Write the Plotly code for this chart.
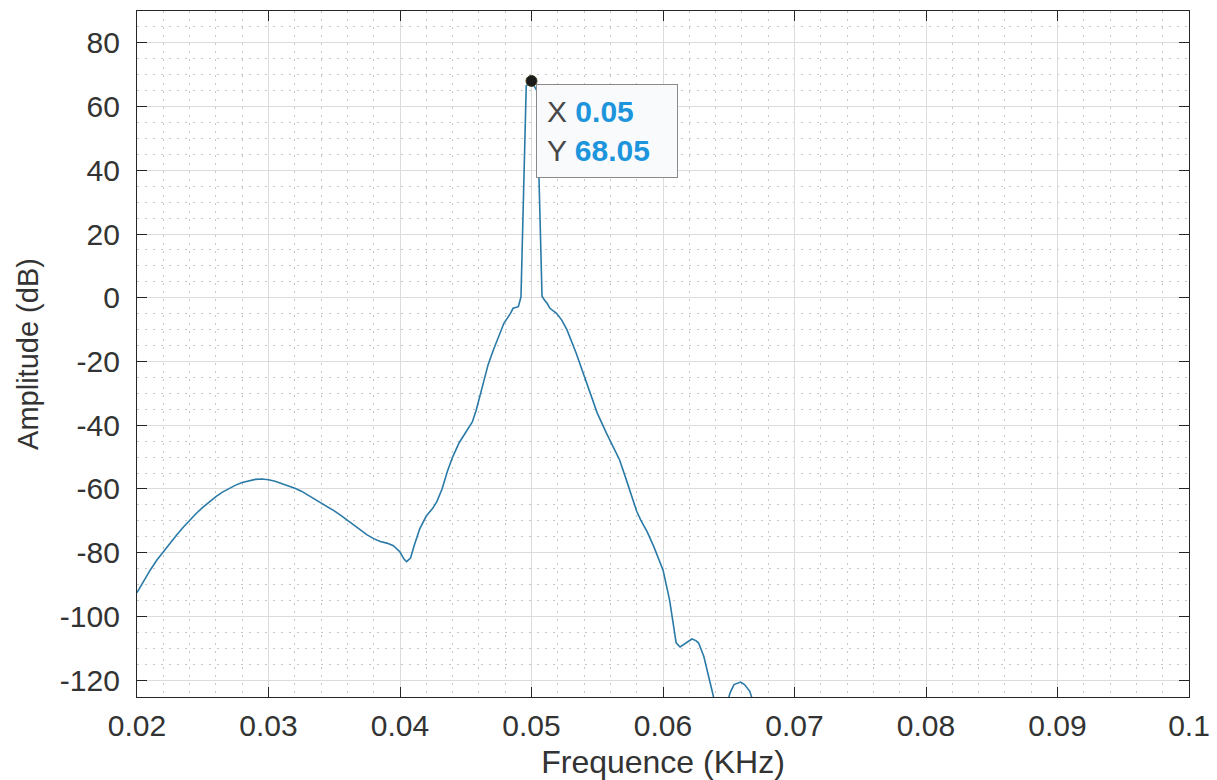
import plotly.graph_objects as go

# Spectrum magnitude (dB) versus frequency (kHz)
freq = [0.0200, 0.0205, 0.0210, 0.0215, 0.0220, 0.0225, 0.0230, 0.0235, 0.0240, 0.0245,
        0.0250, 0.0255, 0.0260, 0.0265, 0.0270, 0.0275, 0.0280, 0.0285, 0.0290, 0.0295,
        0.0300, 0.0305, 0.0310, 0.0315, 0.0320, 0.0325, 0.0330, 0.0335, 0.0340, 0.0345,
        0.0350, 0.0355, 0.0360, 0.0365, 0.0370, 0.0375, 0.0380, 0.0385, 0.0390, 0.0395,
        0.0400, 0.0403, 0.0405, 0.0408, 0.0411, 0.0415, 0.0420, 0.0425, 0.0428, 0.0432,
        0.0436, 0.0440, 0.0445, 0.0450, 0.0455, 0.0458, 0.0463, 0.0467, 0.0471, 0.0475,
        0.0479, 0.0484, 0.0486, 0.0490, 0.0491, 0.0492, 0.0496, 0.0500, 0.0504, 0.0508,
        0.0510, 0.0512, 0.0514, 0.0519, 0.0523, 0.0527, 0.0534, 0.0542, 0.0550, 0.0557,
        0.0562, 0.0567, 0.0572, 0.0576, 0.0580, 0.0583, 0.0588, 0.0593, 0.0600, 0.0605,
        0.0610, 0.0613, 0.0617, 0.0622, 0.0625, 0.0627, 0.0631, 0.0635, 0.0638, 0.0641,
        0.0645, 0.0649, 0.0651, 0.0654, 0.0659, 0.0662, 0.0666, 0.0669, 0.0673]
amp = [-92.5, -88.8, -85.5, -82.4, -79.7, -77.0, -74.5, -72.1, -69.8, -67.7,
       -65.8, -64.0, -62.4, -61.0, -59.8, -58.8, -58.0, -57.4, -57.0, -56.9,
       -57.1, -57.6, -58.3, -59.1, -59.8, -60.7, -61.9, -63.1, -64.3, -65.5,
       -66.9, -68.3, -69.8, -71.4, -73.0, -74.4, -75.6, -76.5, -77.0, -77.8,
       -79.8, -82.0, -82.8, -81.7, -77.5, -72.5, -68.5, -66.0, -64.0, -60.0,
       -54.5, -50.0, -45.5, -42.2, -39.0, -35.2, -27.0, -21.0, -16.4, -12.0,
       -8.0, -4.9, -3.3, -2.8, -0.7, 0.3, 66.5, 68.05, 65.0, 0.5,
       -0.8, -1.8, -3.3, -4.9, -7.0, -10.1, -17.4, -26.8, -36.2, -42.5,
       -46.5, -50.9, -57.0, -62.0, -67.0, -69.7, -73.5, -78.1, -85.4, -94.8,
       -108.3, -109.6, -108.5, -107.1, -107.6, -108.3, -112.5, -119.0, -124.5, -131.0,
       -134.0, -127.0, -124.0, -121.4, -120.6, -121.4, -123.5, -127.5, -135.0]

# Data-tip location
tip_x = 0.05
tip_y = 68.05

x_ticks = [0.02, 0.03, 0.04, 0.05, 0.06, 0.07, 0.08, 0.09, 0.1]
x_tick_text = ["0.02", "0.03", "0.04", "0.05", "0.06", "0.07", "0.08", "0.09", "0.1"]
y_ticks = [-120, -100, -80, -60, -40, -20, 0, 20, 40, 60, 80]
y_tick_text = ["-120", "-100", "-80", "-60", "-40", "-20", "0", "20", "40", "60", "80"]

FONT = "Liberation Sans, Arial, sans-serif"
INK = "#333333"
LINE = "#2a7aa8"
TIP_BLUE = "#1d95dc"

fig = go.Figure()
fig.add_trace(go.Scatter(x=freq, y=amp, mode="lines",
                         line=dict(color=LINE, width=1.6), hoverinfo="skip",
                         showlegend=False))
fig.add_trace(go.Scatter(x=[tip_x], y=[tip_y], mode="markers",
                         marker=dict(size=11, color="#1a1a1a",
                                     line=dict(color="#3a3a20", width=1)),
                         cliponaxis=False, hoverinfo="skip", showlegend=False))

tip_text = (f'X <span style="color:{TIP_BLUE}"><b>{tip_x:.2f}</b></span><br>'
            f'Y <span style="color:{TIP_BLUE}"><b>{tip_y:.2f}</b></span>')
fig.add_annotation(x=tip_x, y=tip_y, xref="x", yref="y", text=tip_text,
                   showarrow=False, xanchor="left", yanchor="top",
                   xshift=4, yshift=-3, align="left", width=120,
                   font=dict(family=FONT, size=30, color="#484848"),
                   bgcolor="#f9fafc", bordercolor="#8a8a8a", borderwidth=1,
                   borderpad=10)

minor_grid = dict(showgrid=True, gridcolor="#c6c6c6", griddash="1.5px,6.5px",
                  gridwidth=1, ticks="")

axis_common = dict(
    showline=True, linecolor="#262626", linewidth=1.3, mirror="ticks",
    ticks="inside", ticklen=10, tickwidth=1.3, tickcolor="#262626",
    showgrid=True, gridcolor="#dcdcdc", gridwidth=1,
    zeroline=False,
    tickfont=dict(family=FONT, size=30, color=INK),
)

fig.update_xaxes(range=[0.02, 0.1], tickvals=x_ticks, ticktext=x_tick_text,
                 minor=dict(dtick=0.002, **minor_grid),
                 ticklabelstandoff=2,
                 title=dict(text="Frequence (KHz)",
                            font=dict(family=FONT, size=32, color=INK),
                            standoff=10),
                 **axis_common)
fig.update_yaxes(range=[-125.3, 90], tickvals=y_ticks, ticktext=y_tick_text,
                 minor=dict(dtick=5, tick0=0, **minor_grid),
                 ticklabelstandoff=10,
                 title=dict(text="Amplitude (dB)",
                            font=dict(family=FONT, size=29, color=INK),
                            standoff=12),
                 **axis_common)

fig.update_layout(width=1217, height=780,
                  margin=dict(l=137, r=28, t=11, b=83, autoexpand=False),
                  paper_bgcolor="white", plot_bgcolor="white",
                  font=dict(family=FONT, color=INK))

fig.write_html("out.html")
